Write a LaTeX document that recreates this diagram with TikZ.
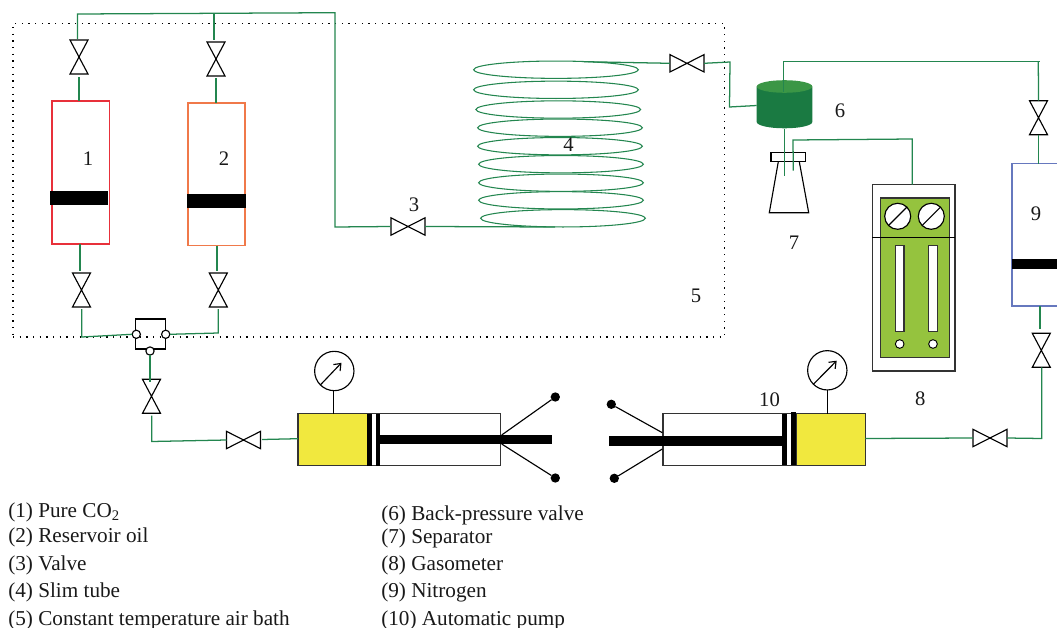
\documentclass[tikz,border=0pt]{standalone}
\usepackage{fontspec}
\setmainfont{Liberation Serif}
\usetikzlibrary{arrows.meta,shapes.geometric,calc}
\definecolor{pipegreen}{HTML}{23864F}
\definecolor{cylred}{HTML}{E8303A}
\definecolor{cylorange}{HTML}{F0794A}
\definecolor{cylblue}{HTML}{6678BE}
\definecolor{bpvdark}{HTML}{1A7A42}
\definecolor{bpvtop}{HTML}{3B9646}
\definecolor{gasgreen}{HTML}{95C33E}
\definecolor{pumpyellow}{HTML}{F1E83E}
\definecolor{linegrey}{HTML}{333333}
\tikzset{
  pipe/.style={draw=pipegreen,line width=0.95pt,line join=miter},
  ring/.style={ellipse,draw=pipegreen,line width=0.8pt,inner sep=0,outer sep=0,minimum width=123.5pt,minimum height=13pt},
  valvebox/.style={inner sep=0,outer sep=0},
  valveline/.style={draw=black,line width=0.85pt,line join=miter},
  solid black/.style={fill=black,draw=none},
  frame/.style={draw=linegrey,line width=0.95pt},
  gaugeface/.style={circle,draw=black,line width=0.85pt,fill=white,inner sep=0,outer sep=0,minimum size=29.5pt},
  wire/.style={draw=black,line width=0.85pt},
  knob/.style={circle,fill=black,inner sep=0,outer sep=0,minimum size=7pt},
  port/.style={circle,draw=black,line width=0.85pt,fill=white,inner sep=0,outer sep=0,minimum size=6.2pt},
  tag/.style={font=\fontsize{15.5}{17}\selectfont,inner sep=0,text=black!90},
  legend/.style={font=\fontsize{15.9}{18}\selectfont,inner sep=0,anchor=base west,text=black!90},
}
\newcommand{\bx}[6]{%
  \pgfmathsetmacro\bxw{(#4-#2)*0.75}\pgfmathsetmacro\bxh{(#5-#3)*0.75}%
  \node[#6,minimum width=\bxw pt,minimum height=\bxh pt,inner sep=0,outer sep=0] (#1) at ({(#2+#4)/2},{(#3+#5)/2}) {};}
% vertical-axis valve (bowtie standing) and horizontal-axis valve
\newcommand{\vvalve}[3]{%
  \node[valvebox,minimum width=13.5pt,minimum height=25.5pt] (#1) at (#2,#3) {};
  \draw[valveline] (#1.north west)--(#1.south east)--(#1.south west)--(#1.north east)--cycle;}
\newcommand{\hvalve}[3]{%
  \node[valvebox,minimum width=25.5pt,minimum height=13pt] (#1) at (#2,#3) {};
  \draw[valveline] (#1.north west)--(#1.south east)--(#1.north east)--(#1.south west)--cycle;}
\begin{document}
\begin{tikzpicture}[x=0.75pt,y=-0.75pt]
\useasboundingbox (0,0) rectangle (1057,628);

% air bath
\bx{bath}{13}{23.5}{724.5}{337}{draw=black,line width=0.85pt,dash pattern=on 0.9pt off 4.1pt}

% junction coordinates
\coordinate (topL) at (77.5,14);
\coordinate (topM) at (214,13.3);
\coordinate (topR) at (335,12.7);
\coordinate (dropB) at (335,227);
\coordinate (inlet) at (555,227);
\coordinate (outlet) at (584,61.7);
\coordinate (jA) at (730,62);
\coordinate (jB) at (729.5,107);
\coordinate (jC) at (783.3,61.7);
\coordinate (jD) at (1040,61.7);
\coordinate (jE) at (793,140);
\coordinate (jF) at (912.3,139);
\coordinate (jG) at (793.3,170.7);
\coordinate (jH) at (784.3,175.7);
\coordinate (jI) at (81.7,337);
\coordinate (jJ) at (218.3,333);
\coordinate (jK) at (151.7,441.5);
\coordinate (jL) at (1041.7,438.5);

% cylinders
\bx{cylA}{52}{101}{109.5}{244}{draw=cylred,line width=1.15pt,fill=white}
\bx{pistA}{50}{191}{108}{205}{solid black}
\bx{cylB}{188}{103}{245}{245.5}{draw=cylorange,line width=1.3pt,fill=white}
\bx{pistB}{187}{194}{245.5}{208}{solid black}
\bx{cylN}{1012}{163.5}{1062}{306}{draw=cylblue,line width=1.15pt,fill=white}
\bx{pistN}{1012}{259.3}{1057}{269.3}{solid black}

% valves
\vvalve{vA}{79}{57}
\vvalve{vB}{216}{59}
\vvalve{vC}{81.5}{290}
\vvalve{vD}{218.3}{290}
\vvalve{vE}{151.5}{396.3}
\vvalve{vF}{1038.5}{117.7}
\vvalve{vG}{1041.3}{350.3}
\hvalve{vH}{408}{226.5}
\hvalve{vI}{687}{63.3}
\hvalve{vJ}{243.5}{440}
\hvalve{vK}{990}{438}

% slim tube
\foreach \n/\cx/\cy in {1/556/69.7,2/556/89.8,3/558.3/109.5,4/560/127.7,5/560/146.2,6/561/164.2,7/561/182.7,8/561/200.3,9/563/218.3}
  \node[ring] (c\n) at (\cx,\cy) {};

% six-way switch
\bx{sw}{135.3}{319}{165.7}{349}{frame,draw=black}
\node[port] (pL) at (136.3,334.3) {};
\node[port] (pR) at (165.7,334.3) {};
\node[port] (pB) at (150,351) {};

% back-pressure valve
\fill[bpvdark] (756.7,86.5) -- (756.7,122) arc[start angle=180,end angle=0,x radius=27.8,y radius=6.3] -- (812.3,86.5) -- cycle;
\fill[bpvtop] (784.5,86.5) ellipse[x radius=27.8,y radius=6.3];

% separator
\draw[line width=0.85pt,line join=miter,fill=white] (778.3,161.7) -- (769.3,212.7) -- (808.7,212.7) -- (799.3,161.7);
\bx{cap}{771}{152.7}{805.7}{161.7}{draw=black,line width=0.85pt,fill=white}

% gasometer
\bx{gas}{872.3}{184.7}{955}{371}{frame,fill=white}
\bx{panel}{880.7}{198}{949.3}{357.3}{draw=linegrey,line width=0.85pt,fill=gasgreen}
\coordinate (gasL) at (872.3,237);
\coordinate (gasR) at (955,237);
\draw[draw=black,line width=0.75pt] (gasL) -- (gasR);
\foreach \n/\kx in {a/897.7,b/931.3}{
  \node[circle,draw=black,line width=0.85pt,fill=white,inner sep=0,outer sep=0,minimum size=19.5pt] (dial\n) at (\kx,216.3) {};
  \draw[wire] (dial\n.225) -- (dial\n.45);
}
\bx{slotA}{895.7}{245.3}{904}{331.3}{draw=linegrey,line width=0.85pt,fill=white}
\bx{slotB}{928.7}{245.3}{937.7}{331.3}{draw=linegrey,line width=0.85pt,fill=white}
\node[circle,draw=black,line width=0.7pt,fill=white,inner sep=0,minimum size=6.5pt] (holeA) at (899.7,344) {};
\node[circle,draw=black,line width=0.7pt,fill=white,inner sep=0,minimum size=6.5pt] (holeB) at (933,344) {};

% left pump
\bx{barL}{298}{413.7}{500.3}{465.7}{frame,fill=white}
\bx{yelL}{298}{413.7}{367.3}{465.7}{frame,fill=pumpyellow}
\bx{sealLa}{367.3}{413.7}{372}{465.7}{solid black}
\bx{sealLb}{376}{413.7}{380.3}{465.7}{solid black}
\bx{rodL}{380}{434.7}{552}{444.3}{solid black}
\node[gaugeface] (gL) at (334.3,371) {};
\draw[wire,-{Straight Barb[length=4.5pt,width=7pt]}] (gL.225) -- (341.5,362.8);
\draw[wire] (gL.south -| 333.3,390) -- (yelL.north -| 333.3,413);
\node[knob] (kLa) at (555.3,397) {};
\node[knob] (kLb) at (555.3,478) {};
\coordinate (hLa) at (501.7,435);
\coordinate (hLb) at (501.7,444);
\draw[wire] (hLa) -- (kLa);
\draw[wire] (hLb) -- (kLb);

% right pump
\bx{barR}{663}{413.7}{865.3}{465.3}{frame,fill=white}
\bx{yelR}{796}{413.7}{865.3}{465.3}{frame,fill=pumpyellow}
\bx{sealRa}{782.3}{413.7}{787.3}{465.3}{solid black}
\bx{sealRb}{791}{412}{796}{465.3}{solid black}
\bx{rodR}{609}{436}{782.3}{446}{solid black}
\node[gaugeface] (gR) at (827.3,370.3) {};
\draw[wire,-{Straight Barb[length=4.5pt,width=7pt]}] (gR.225) -- (836.7,360.7);
\draw[wire] (gR.south) -- (yelR.north -| gR.south);
\node[knob] (kRa) at (611.3,404.3) {};
\node[knob] (kRb) at (614.3,478.3) {};
\coordinate (hRa) at (662.3,432.7);
\coordinate (hRb) at (662.3,449);
\draw[wire] (hRa) -- (kRa);
\draw[wire] (hRb) -- (kRb);

% pipes
\draw[pipe] ([shift={(-1.5,-1)}]vA.north) -- (topL) -- (topR) -- (dropB) -- (vH.west);
\draw[pipe] (topM) -- ([shift={(-2,-2)}]vB.north);
\draw[pipe] (vA.south |- 79,77) -- (cylA.north -| 79,101);
\draw[pipe] (vB.south |- 216,78) -- (cylB.north -| 216,103);
\draw[pipe] (vH.east) -- (inlet);
\draw[pipe] (outlet) -- (vI.west);
\draw[pipe] (vI.east) -- (jA) -- (jB) -- (756.7,105.5);
\draw[pipe] (jH) -- (784.3,128.5);
\draw[pipe] (jC) -- (783.3,92);
\draw[pipe] (jC) -- (jD);
\draw[pipe] (1038.3,61.7) -- (vF.north);
\draw[pipe] (vF.south) -- (cylN.north -| vF.south);
\draw[pipe] (jG) -- (jE) -- (jF) -- (gas.north -| jF);
\draw[pipe] (80,244) -- ([shift={(-1.5,-2)}]vC.north);
\draw[pipe] (217,245.5) -- ([shift={(-1.3,-2)}]vD.north);
\draw[pipe] (81.7,309) -- (jI) -- (pL.west);
\draw[pipe] (218.3,309) -- (jJ) -- (pR.east);
\draw[pipe] (pB.south) -- ([yshift=-2]vE.north -| pB.south);
\draw[pipe] (151.7,415.5) -- (jK) -- (vJ.west);
\draw[pipe] (262,439.5) -- (yelL.west |- 298,438.7);
\draw[pipe] (yelR.east |- 865.3,438.5) -- (vK.west);
\draw[pipe] (vK.east) -- (jL) -- (1041.7,367.3);
\draw[pipe] (1040,306) -- (1040,329);

% number labels
\node[tag] (l1) at (88,159) {1};
\node[tag] (l2) at (224,159) {2};
\node[tag] (l3) at (414,205) {3};
\node[tag] (l4) at (568.5,145) {4};
\node[tag] (l5) at (696,296) {5};
\node[tag] (l6) at (840,111) {6};
\node[tag] (l7) at (794,243) {7};
\node[tag] (l8) at (920.3,399) {8};
\node[tag] (l9) at (1036,214) {9};
\node[tag] (l10) at (769.5,400) {10};

% legend
\node[legend] (a1) at (8,517) {(1) Pure CO\raisebox{-0.35ex}{\fontsize{11}{12}\selectfont 2}};
\node[legend] (a2) at (8,542.7) {(2) Reservoir oil};
\node[legend] (a3) at (8,570) {(3) Valve};
\node[legend] (a4) at (8,597.7) {(4) Slim tube};
\node[legend] (a5) at (8,625) {(5) Constant temperature air bath};
\node[legend] (a6) at (381,520) {(6) Back-pressure valve};
\node[legend] (a7) at (381,543.3) {(7) Separator};
\node[legend] (a8) at (381,570) {(8) Gasometer};
\node[legend] (a9) at (381,597.7) {(9) Nitrogen};
\node[legend] (a10) at (381,625) {(10) Automatic pump};
\end{tikzpicture}
\end{document}
